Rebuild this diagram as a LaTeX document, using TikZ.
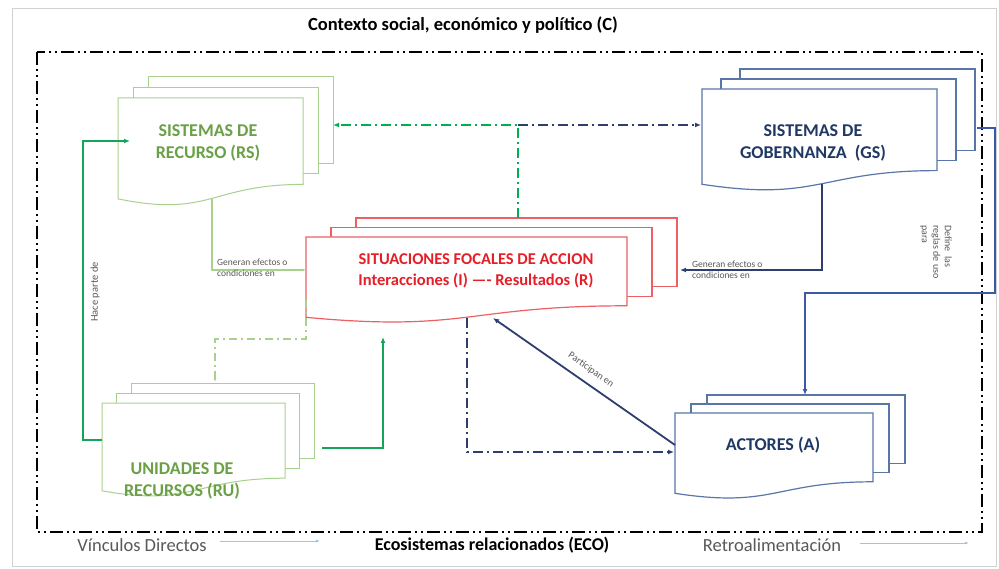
\documentclass[tikz,border=0pt]{standalone}
\usepackage{fontspec}
\setmainfont{Carlito}
\usetikzlibrary{arrows.meta}
\definecolor{gline}{RGB}{169,209,142}
\definecolor{gtext}{RGB}{106,160,70}
\definecolor{bline}{RGB}{90,118,168}
\definecolor{btext}{RGB}{32,56,100}
\definecolor{rline}{RGB}{236,96,100}
\definecolor{rtext}{RGB}{230,30,40}
\definecolor{gsolid}{RGB}{20,165,90}
\definecolor{gdd}{RGB}{0,176,80}
\definecolor{bdark}{RGB}{46,62,110}
\definecolor{bdef}{RGB}{58,90,168}
\definecolor{lblue}{RGB}{157,195,230}
\definecolor{lbl}{RGB}{89,89,89}
\newcommand\mydocstack[8]{%
  \draw[#1, line width=#8, fill=white] ({#2+2*#6},{#3-2*#7}) rectangle ({#2+#4+2*#6},{#3+0.8*#5-2*#7});
  \draw[#1, line width=#8, fill=white] ({#2+#6},{#3-#7}) rectangle ({#2+#4+#6},{#3+0.8*#5-#7});
  \draw[#1, line width=#8, fill=white] (#2,#3) -- ({#2+#4},#3) -- ({#2+#4},{#3+0.8*#5})
    .. controls ({#2+0.5*#4},{#3+0.8*#5}) and ({#2+0.5*#4},{#3+1.11*#5}) .. (#2,{#3+0.934*#5}) -- cycle;
}
\tikzset{
  boxtext/.style={align=center, font=\fontsize{18}{22}\selectfont\bfseries, inner sep=0pt},
  small/.style={font=\fontsize{9.5}{11}\selectfont, text=lbl, inner sep=0pt},
  legend/.style={font=\fontsize{18.5}{21}\selectfont, text=lbl, inner sep=0pt},
  tip/.style={-{Latex[length=6pt,width=5pt]}},
  frameline/.style={line width=2.6pt, dash pattern=on 13pt off 4pt on 2pt off 4pt on 2pt off 4pt},
  ddash/.style={line width=2pt, dash pattern=on 10pt off 4pt on 2pt off 4pt},
}
\begin{document}
\begin{tikzpicture}[x=1pt,y=-1pt]
\useasboundingbox (0,0) rectangle (999,569);
\fill[white] (0,0) rectangle (999,569);
\draw[black!18, line width=1pt] (12,9) rectangle (996,566);
\draw[black, frameline] (37,52) rectangle (982,532);
\node[font=\fontsize{18.5}{21}\selectfont\bfseries, inner sep=0pt] (title) at (463,25) {Contexto social, económico y político (C)};

% stacks
\mydocstack{gline}{118}{98}{185}{108}{15}{10.5}{1pt}
\mydocstack{bline}{702}{89}{235}{102}{19}{10}{1.2pt}
\mydocstack{rline}{306}{237}{321}{86}{25}{9.5}{1.2pt}
\mydocstack{gline}{102}{403}{183}{94}{14.5}{10}{1pt}
\mydocstack{bline}{675}{413}{198}{86}{16}{9}{1.2pt}

\node[boxtext, text=gtext] (rs) at (208,143) {SISTEMAS DE\\RECURSO (RS)};
\node[boxtext, text=btext] (gs) at (813,143) {SISTEMAS DE\\GOBERNANZA\ \ (GS)};
\node[boxtext, font=\fontsize{16.5}{21}\selectfont\bfseries, text=rtext] (sfa) at (476,271) {SITUACIONES FOCALES DE ACCION\\Interacciones (I) —- Resultados (R)};
\node[boxtext, text=btext] (act) at (773,445) {ACTORES (A)};
\node[boxtext, text=gtext] (ru) at (182,481) {UNIDADES DE\\RECURSOS (RU)};

% anchor coordinates
\coordinate (ruL) at (102,440);
\coordinate (rsIn) at (130,141);
\coordinate (ruR) at (322,448);
\coordinate (sfaB1) at (383,337);
\coordinate (rsB) at (212,199);
\coordinate (sfaL) at (306,270);
\coordinate (gsB) at (822,184);
\coordinate (sfaR) at (680,270);
\coordinate (gsR) at (977,128);
\coordinate (actT) at (805,395);
\coordinate (actL) at (675,445);
\coordinate (sfaB2) at (493,318);
\coordinate (sfaT) at (518,218);
\coordinate (junc) at (518,125);
\coordinate (rsR) at (333,125);
\coordinate (gsL) at (701,125);
\coordinate (sfaLB) at (306,300);
\coordinate (ruT) at (215,382);
\coordinate (sfaB3) at (467,318);
\coordinate (actL2) at (674,452);

% Hace parte de
\draw[gsolid, line width=2.2pt, tip] (ruL) -- ++(-19,0) |- (rsIn);
\node[small, font=\fontsize{10.5}{12}\selectfont, rotate=90] (hp) at (95,292) {Hace parte de};
% RU -> SFA
\draw[gsolid, line width=2.2pt, tip] (ruR) -| (sfaB1);
% RS -> SFA
\draw[gline, line width=1.2pt, -{Latex[length=4pt,width=3pt]}] (rsB) |- (sfaL);
\node[small, align=left, anchor=west] (lab1) at (217,268) {Generan efectos o\\condiciones en};
% GS -> SFA
\draw[bdark, line width=1.8pt, tip] (gsB) |- (sfaR);
\node[small, align=left, anchor=west] (lab2) at (692,270) {Generan efectos o\\condiciones en};
% Define las reglas
\draw[bdef, line width=1.4pt, tip] (gsR) -- ++(18,0) |- ++(-190,165) -- (actT);
\node[small, font=\fontsize{10}{11.5}\selectfont, rotate=-90, align=left] (lab3) at (936,252) {Define\ \ las\\reglas de uso\\para};
% Participan en
\draw[bdark, line width=1.8pt, tip] (actL) -- (sfaB2);
\node[small, font=\fontsize{10}{12}\selectfont, rotate=-35] (lab4) at (591,370) {Participan en};
% dash-dot connectors
\draw[gdd, ddash, tip] (sfaT) -- (junc) -- (rsR);
\draw[bdark, ddash, tip] (junc) -- (gsL);
\draw[gline, line width=1.4pt, dash pattern=on 8pt off 4pt on 2pt off 4pt, -{Latex[length=4pt,width=3pt]}] (sfaLB) -- ++(0,39) -| (ruT);
\draw[bdark, ddash, tip] (sfaB3) |- (actL2);

% legend
\node[legend] (vd) at (142,545) {Vínculos Directos};
\coordinate (vdA) at (220,541);
\coordinate (vdB) at (320,541);
\draw[lblue, line width=1pt, -{Latex[length=4pt,width=3pt]}] (vdA) -- (vdB);
\node[legend, font=\fontsize{18}{21}\selectfont\bfseries, text=black] (eco) at (492,545) {Ecosistemas relacionados (ECO)};
\node[legend] (retro) at (772,545) {Retroalimentación};
\coordinate (reA) at (860,543);
\coordinate (reB) at (969,543);
\draw[lblue, line width=1pt, -{Latex[length=4pt,width=3pt]}] (reA) -- (reB);
\end{tikzpicture}
\end{document}
